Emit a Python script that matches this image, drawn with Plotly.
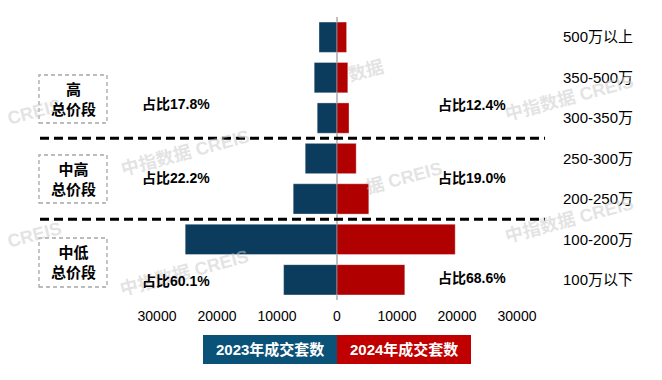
import plotly.graph_objects as go

# ---------------- data ----------------
categories = ['500万以上', '350-500万', '300-350万', '250-300万', '200-250万', '100-200万', '100万以下']
sales_2023 = [3000, 3800, 3300, 5300, 7300, 25300, 8900]
sales_2024 = [1600, 1800, 2000, 3200, 5300, 19700, 11300]
tick_vals = [-30000, -20000, -10000, 0, 10000, 20000, 30000]
tick_text = ['30000', '20000', '10000', '0', '10000', '20000', '30000']
segment_names = ['高<br>总价段', '中高<br>总价段', '中低<br>总价段']
share_2023 = ['占比17.8%', '占比22.2%', '占比60.1%']
share_2024 = ['占比12.4%', '占比19.0%', '占比68.6%']
legend_names = ['2023年成交套数', '2024年成交套数']

# ---------------- layout geometry ----------------
W, H = 662, 380
L, R, T, B = 130, 547, 17, 300
PW, PH = R - L, B - T


def px(x):
    return (x - L) / PW


def py(y):
    return 1 - (y - T) / PH


FONT = 'Liberation Sans, Arial, Noto Sans CJK SC, sans-serif'
BLUE = '#0B3C5D'
RED = '#B00000'
LEG_BLUE = '#0B5279'
LEG_RED = '#C00000'

fig = go.Figure()
fig.add_trace(go.Bar(
    y=categories, x=[-v for v in sales_2023], orientation='h', name=legend_names[0],
    marker=dict(color=BLUE, line=dict(color='rgba(255,255,255,0.35)', width=1)),
    customdata=sales_2023, hovertemplate='%{y}: %{customdata}<extra>2023</extra>'))
fig.add_trace(go.Bar(
    y=categories, x=sales_2024, orientation='h', name=legend_names[1],
    marker=dict(color=RED, line=dict(color='rgba(255,255,255,0.35)', width=1)),
    hovertemplate='%{y}: %{x}<extra>2024</extra>'))

annotations = []
shapes = []

# watermarks
wm = [('CREIS', 34, 112), ('中指数据 CREIS', 185, 152), ('CREIS', 34, 235),
      ('中指数据 CREIS', 184, 272), ('数据', 366, 71), ('据 CREIS', 404, 178),
      ('中指数据 CREIS', 569, 97), ('中指数据 CREIS', 569, 219)]
for t, x, y in wm:
    annotations.append(dict(text=t, x=px(x), y=py(y), xref='paper', yref='paper',
                            showarrow=False, textangle=-15, xanchor='center', yanchor='middle',
                            font=dict(family=FONT, size=18, color='rgba(200,200,200,0.5)', weight='bold')))

# separators
for yv in [2.5, 4.5]:
    shapes.append(dict(type='line', xref='paper', yref='y', x0=px(40), x1=px(545), y0=yv, y1=yv,
                       line=dict(color='black', width=3, dash='9px,5px')))

# segment boxes
boxes = [(75, 123), (155, 203), (238, 287)]
for (y0, y1), name in zip(boxes, segment_names):
    shapes.append(dict(type='rect', xref='paper', yref='paper', x0=px(39), x1=px(107),
                       y0=py(y1), y1=py(y0), line=dict(color='#A6A6A6', width=1.3, dash='4px,3px')))
    annotations.append(dict(text=name, x=px(73), y=py((y0 + y1) / 2), xref='paper', yref='paper',
                            showarrow=False, xanchor='center', yanchor='middle',
                            font=dict(family=FONT, size=15, color='black', weight='bold')))

# share labels
left_y = [104, 178, 281]
right_y = [105, 178, 278]
for t, y in zip(share_2023, left_y):
    annotations.append(dict(text=t, x=px(176), y=py(y), xref='paper', yref='paper', showarrow=False,
                            xanchor='center', yanchor='middle',
                            font=dict(family=FONT, size=14, color='black', weight='bold')))
for t, y in zip(share_2024, right_y):
    annotations.append(dict(text=t, x=px(472), y=py(y), xref='paper', yref='paper', showarrow=False,
                            xanchor='center', yanchor='middle',
                            font=dict(family=FONT, size=14, color='black', weight='bold')))

# legend boxes
for (x0, x1), col, name in zip([(203, 337), (337, 471)], [LEG_BLUE, LEG_RED], legend_names):
    shapes.append(dict(type='rect', xref='paper', yref='paper', x0=px(x0), x1=px(x1),
                       y0=py(364), y1=py(335), fillcolor=col, line=dict(width=0)))
    annotations.append(dict(text=name, x=px((x0 + x1) / 2), y=py(349.5), xref='paper', yref='paper',
                            showarrow=False, xanchor='center', yanchor='middle',
                            font=dict(family=FONT, size=15, color='white', weight='bold')))

fig.update_layout(
    width=W, height=H,
    margin=dict(l=L, r=W - R, t=T, b=H - B),
    paper_bgcolor='white', plot_bgcolor='rgba(0,0,0,0)',
    barmode='relative', bargap=0.25, showlegend=False,
    font=dict(family=FONT, color='black'),
    xaxis=dict(range=[-34500, 35000], tickvals=tick_vals, ticktext=tick_text,
               showgrid=False, zeroline=True, zerolinecolor='#BFBFBF', zerolinewidth=1.5,
               showline=False, ticks='', tickfont=dict(size=14, color='black'),
               ticklabelstandoff=6, fixedrange=True),
    yaxis=dict(categoryorder='array', categoryarray=categories, autorange='reversed',
               side='right', showgrid=False, zeroline=False, showline=False, ticks='',
               tickfont=dict(size=15, color='black'), ticklabelstandoff=15, fixedrange=True),
    shapes=shapes, annotations=annotations,
)

fig.write_html('out.html', config={'displayModeBar': False},
               post_script="document.body.style.margin='0';")
